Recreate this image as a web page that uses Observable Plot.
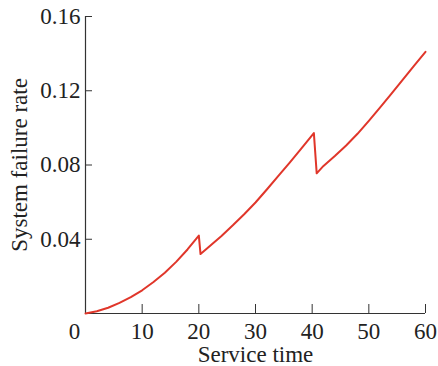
<!DOCTYPE html>
<html>
<head>
<meta charset="utf-8">
<script src="https://cdn.jsdelivr.net/npm/d3@7"></script>
<script src="https://cdn.jsdelivr.net/npm/@observablehq/plot@0.6"></script>
<style>
  html, body { margin: 0; padding: 0; background: #fff; }
</style>
</head>
<body>
<div id="chart"></div>
<script>
const serviceTime = [0, 2, 4, 6, 8, 10, 12, 14, 16, 18, 20, 20.3, 22, 24, 26, 28, 30, 32, 34, 36, 38, 40.3, 40.8, 42, 44, 46, 48, 50, 52, 54, 56, 58, 60];
const failureRate = [0, 0.0012, 0.0031, 0.0057, 0.0088, 0.0125, 0.0170, 0.0220, 0.0278, 0.0345, 0.0420, 0.0320, 0.0365, 0.0418, 0.0475, 0.0535, 0.0598, 0.0668, 0.0740, 0.0812, 0.0885, 0.0972, 0.0755, 0.0795, 0.0848, 0.0905, 0.0968, 0.1038, 0.1110, 0.1185, 0.1260, 0.1335, 0.1410];
const xTicks = [0, 10, 20, 30, 40, 50, 60];
const xTickLabelsShifted = [0];
const xTickLabelsNormal = [10, 20, 30, 40, 50, 60];
const yTicks = [0.04, 0.08, 0.12, 0.16];
const yTickLabels = ["0.04", "0.08", "0.12", "0.16"];
const xLabel = "Service time";
const yLabel = "System failure rate";

const data = serviceTime.map((t, i) => ({t, r: failureRate[i]}));

const chart = Plot.plot({
  width: 438,
  height: 366,
  marginLeft: 85,
  marginRight: 13,
  marginTop: 16,
  marginBottom: 53,
  style: {fontFamily: "'Liberation Serif', serif", fontSize: "23px", color: "#222", background: "#fff"},
  x: {domain: [0, 60]},
  y: {domain: [0, 0.16]},
  marks: [
    Plot.axisX({ticks: xTicks, tickSize: -9, text: null, stroke: "#333", label: xLabel, labelAnchor: "center", labelArrow: "none", labelOffset: 48}),
    Plot.axisX({ticks: xTickLabelsNormal, tickSize: 0, tickPadding: 9, tickFormat: d => String(d), label: null}),
    Plot.axisX({ticks: xTickLabelsShifted, tickSize: 0, tickPadding: 9, dx: -11, tickFormat: d => String(d), label: null}),
    Plot.axisY({ticks: yTicks, tickSize: -7, tickPadding: 12, stroke: "#333", tickFormat: (d, i) => yTickLabels[i], label: yLabel, labelAnchor: "center", labelArrow: "none", labelOffset: 75}),
    Plot.ruleY([0], {stroke: "#333", strokeWidth: 1.2}),
    Plot.ruleX([0], {stroke: "#333", strokeWidth: 1.2}),
    Plot.line(data, {x: "t", y: "r", stroke: "#e0362a", strokeWidth: 2})
  ]
});
document.getElementById("chart").appendChild(chart);
</script>
</body>
</html>
